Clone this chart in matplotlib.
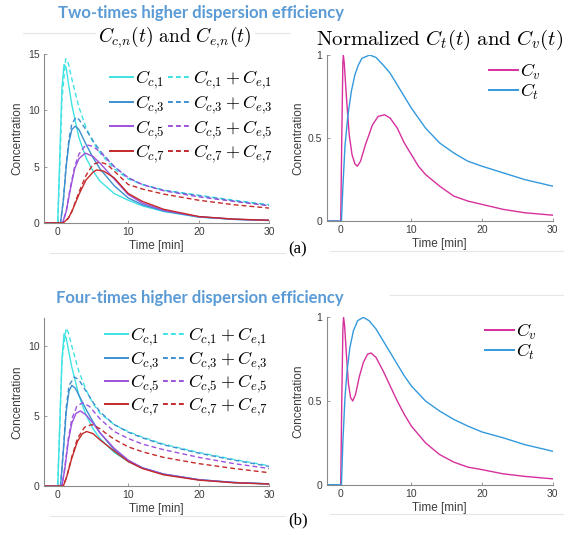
import numpy as np
import matplotlib
matplotlib.use("Agg")
import matplotlib.pyplot as plt
from matplotlib.lines import Line2D

plt.rcParams["mathtext.fontset"] = "cm"
plt.rcParams["font.family"] = ["Liberation Sans", "DejaVu Sans"]

# ---------------- data ----------------
# (a) two-times higher dispersion efficiency, left panel
ta_c1 = [-2, 0, 0.3, 0.6, 0.9, 1.2, 1.5, 2, 3, 4, 5, 6, 8, 10, 12, 15, 20, 25, 30]
a_c1 = [0, 0, 6, 12, 14.1, 13.8, 12.5, 10.5, 7.6, 5.8, 4.6, 3.7, 2.6, 2.0, 1.5, 1.0, 0.5, 0.3, 0.2]
ta_c3 = [-2, 0.4, 0.8, 1.2, 1.6, 2, 2.5, 3, 4, 5, 6, 8, 10, 12, 15, 20, 25, 30]
a_c3 = [0, 0, 2, 5, 7.2, 8.3, 8.6, 8.3, 7.0, 5.8, 4.8, 3.3, 2.2, 1.6, 1.05, 0.52, 0.3, 0.2]
ta_c5 = [-2, 0.7, 1.2, 1.8, 2.4, 3, 3.9, 5, 6, 8, 10, 12, 15, 20, 25, 30]
a_c5 = [0, 0, 1, 3, 4.8, 5.7, 6.2, 5.9, 5.3, 3.9, 2.5, 1.75, 1.1, 0.53, 0.31, 0.21]
ta_c7 = [-2, 0.8, 1.5, 2, 3, 4, 5, 5.5, 6.5, 8, 10, 12, 15, 20, 25, 30]
a_c7 = [0, 0, 0.4, 1.0, 2.5, 3.8, 4.5, 4.7, 4.6, 4.0, 2.6, 1.9, 1.2, 0.55, 0.32, 0.22]
ta_d1 = [-2, 0, 0.3, 0.6, 1.13, 1.5, 2, 3, 4, 5, 6, 8, 10, 12, 15, 20, 25, 30]
a_d1 = [0, 0, 5, 11, 14.6, 14.2, 12.8, 10.3, 8.5, 7.2, 6.2, 4.8, 3.9, 3.4, 2.9, 2.45, 2.0, 1.6]
ta_d3 = [-2, 0.4, 0.8, 1.2, 1.6, 2, 2.6, 3, 4, 5, 6, 8, 10, 12, 15, 20, 25, 30]
a_d3 = [0, 0, 2, 5.2, 7.5, 8.8, 9.4, 9.2, 8.3, 7.3, 6.4, 5.0, 4.0, 3.4, 2.9, 2.4, 1.95, 1.55]
ta_d5 = [-2, 0.7, 1.2, 1.8, 2.4, 3, 4, 5, 6, 8, 10, 12, 15, 20, 25, 30]
a_d5 = [0, 0, 1, 3.2, 5.0, 6.1, 6.95, 6.8, 6.3, 5.0, 4.0, 3.4, 2.85, 2.3, 1.9, 1.5]
ta_d7 = [-2, 0.8, 1.5, 2, 3, 4, 5, 6, 7, 8, 10, 12, 15, 20, 25, 30]
a_d7 = [0, 0, 0.4, 1.0, 2.7, 4.2, 5.2, 5.4, 5.2, 4.6, 3.4, 3.0, 2.55, 2.0, 1.6, 1.3]

# (a) right panel, normalized
ta_v = [-2, 0, 0.15, 0.3, 0.37, 0.5, 0.8, 1.2, 1.6, 2.0, 2.35, 2.8, 3.5, 4.5, 5.3, 6.2,
        7, 8, 9, 10, 11, 12, 14, 16, 18, 20, 23, 26, 30]
a_v = [0, 0, 0.5, 0.95, 1.0, 0.95, 0.75, 0.52, 0.4, 0.345, 0.33, 0.36, 0.46, 0.58, 0.63, 0.64,
       0.62, 0.56, 0.47, 0.4, 0.33, 0.28, 0.21, 0.15, 0.12, 0.1, 0.07, 0.05, 0.035]
ta_t = [-2, 0.1, 0.3, 0.6, 1.0, 1.5, 2, 2.5, 3, 4.1, 5, 6, 7, 8, 9, 10, 12, 14, 16, 18, 20,
        23, 26, 30]
a_t = [0, 0, 0.2, 0.45, 0.63, 0.78, 0.88, 0.94, 0.98, 1.0, 0.985, 0.94, 0.89, 0.82, 0.75,
       0.68, 0.56, 0.47, 0.41, 0.36, 0.33, 0.29, 0.25, 0.21]

# (b) four-times higher dispersion efficiency, left panel
tb_c1 = [-2, 0, 0.3, 0.6, 0.9, 1.2, 1.5, 2, 3, 4, 5, 6, 8, 10, 12, 15, 20, 25, 30]
b_c1 = [0, 0, 4.5, 9, 10.9, 10.6, 9.8, 8.5, 6.5, 5.1, 4.1, 3.4, 2.4, 1.75, 1.3, 0.85, 0.45, 0.25, 0.15]
tb_c3 = [-2, 0.4, 0.8, 1.2, 1.6, 2.0, 2.5, 3, 4, 5, 6, 8, 10, 12, 15, 20, 25, 30]
b_c3 = [0, 0, 2.5, 5.3, 6.8, 7.2, 7.0, 6.5, 5.5, 4.6, 3.8, 2.6, 1.8, 1.3, 0.85, 0.45, 0.25, 0.15]
tb_c5 = [-2, 0.6, 1.0, 1.5, 2, 2.6, 3.2, 4, 5, 6, 8, 10, 12, 15, 20, 25, 30]
b_c5 = [0, 0, 1.2, 3.2, 4.5, 5.2, 5.37, 5.1, 4.5, 3.8, 2.7, 1.85, 1.3, 0.85, 0.45, 0.25, 0.15]
tb_c7 = [-2, 0.8, 1.3, 2, 2.8, 3.5, 4.1, 5, 6, 8, 10, 12, 15, 20, 25, 30]
b_c7 = [0, 0, 0.7, 2.0, 3.2, 3.75, 3.9, 3.75, 3.3, 2.5, 1.75, 1.25, 0.8, 0.42, 0.23, 0.14]
tb_d1 = [-2, 0, 0.3, 0.6, 1.18, 1.5, 2, 3, 4, 5, 6, 8, 10, 12, 15, 20, 25, 30]
b_d1 = [0, 0, 4.5, 9, 11.3, 11.0, 10.0, 8.2, 6.9, 5.9, 5.2, 4.4, 3.9, 3.5, 3.0, 2.4, 1.9, 1.45]
tb_d3 = [-2, 0.4, 0.8, 1.2, 1.6, 2.36, 3, 4, 5, 6, 8, 10, 12, 15, 20, 25, 30]
b_d3 = [0, 0, 2.6, 5.6, 7.2, 7.8, 7.6, 6.8, 6.0, 5.3, 4.4, 3.85, 3.45, 2.95, 2.35, 1.85, 1.4]
tb_d5 = [-2, 0.6, 1.0, 1.5, 2, 2.7, 3.5, 4.5, 5, 6, 8, 10, 12, 15, 20, 25, 30]
b_d5 = [0, 0, 1.3, 3.4, 4.8, 5.7, 5.96, 5.7, 5.4, 4.8, 3.9, 3.4, 3.0, 2.6, 2.05, 1.6, 1.25]
tb_d7 = [-2, 0.8, 1.3, 2, 2.8, 3.8, 4.8, 6, 7, 8, 10, 12, 15, 20, 25, 30]
b_d7 = [0, 0, 0.7, 2.1, 3.4, 4.2, 4.4, 4.1, 3.7, 3.35, 2.8, 2.45, 2.05, 1.6, 1.25, 0.95]

# (b) right panel, normalized
tb_v = [-2, 0, 0.15, 0.3, 0.4, 0.55, 0.8, 1.1, 1.4, 1.7, 2.1, 2.6, 3.2, 3.8, 4.3, 5, 6, 7, 8,
        9, 10, 12, 14, 16, 18, 20, 23, 26, 30]
b_v = [0, 0, 0.5, 0.92, 1.0, 0.95, 0.78, 0.6, 0.52, 0.5, 0.54, 0.64, 0.73, 0.78, 0.787, 0.76,
       0.68, 0.59, 0.5, 0.42, 0.35, 0.25, 0.18, 0.135, 0.105, 0.09, 0.065, 0.05, 0.035]
tb_t = [-2, 0.1, 0.3, 0.6, 0.9, 1.3, 1.8, 2.4, 3.2, 4, 5, 6, 7, 8, 9, 10, 12, 14, 16, 18, 20,
        23, 26, 30]
b_t = [0, 0, 0.25, 0.52, 0.68, 0.82, 0.92, 0.98, 1.0, 0.98, 0.93, 0.86, 0.79, 0.72, 0.65,
       0.59, 0.5, 0.44, 0.39, 0.35, 0.315, 0.28, 0.24, 0.2]

n_labels = ["1", "3", "5", "7"]
series_colors = ["#3fe3e3", "#3d8fcf", "#9d52dd", "#c42a2a"]
cv_color = "#d6309c"
ct_color = "#3399dd"
head_color = "#5b9bd5"
axis_color = "#8a8a8a"
tick_text = "#3c3c3c"


def style_axes(ax, yticks, ylim, ylabels):
    ax.set_xlim(-2, 30)
    ax.set_ylim(*ylim)
    ax.set_xticks([0, 10, 20, 30])
    ax.set_yticks(yticks)
    ax.set_yticklabels(ylabels)
    for s in ["top", "right"]:
        ax.spines[s].set_visible(False)
    for s in ["left", "bottom"]:
        ax.spines[s].set_color(axis_color)
        ax.spines[s].set_linewidth(0.8)
    ax.tick_params(direction="in", length=2.5, width=0.6, color=axis_color,
                   labelsize=7.5, labelcolor=tick_text, pad=3)
    ax.set_xlabel("Time [min]", fontsize=8.5, color=tick_text, labelpad=2)
    ax.set_ylabel("Concentration", fontsize=8.5, color=tick_text, labelpad=3)


def draw_left(ax, solid, dashed, ylim, yticks, anchor, spacing):
    for (t, y), c in zip(solid, series_colors):
        ax.plot(t, y, color=c, lw=1.0)
    for (t, y), c in zip(dashed, series_colors):
        ax.plot(t, y, color=c, lw=1.0, ls=(0, (3.5, 2.2)))
    handles = [Line2D([], [], color=c, lw=1.4) for c in series_colors]
    handles += [Line2D([], [], color=c, lw=1.4, ls=(0, (2.5, 1.6))) for c in series_colors]
    labels = ["$C_{c{,}%s}$" % n for n in n_labels]
    labels += ["$C_{c{,}%s}+C_{e{,}%s}$" % (n, n) for n in n_labels]
    ax.legend(handles, labels, ncol=2, frameon=False, fontsize=13,
              loc="upper left", bbox_to_anchor=anchor,
              handlelength=1.3, handletextpad=0.1, columnspacing=0.15,
              labelspacing=spacing, borderaxespad=0, borderpad=0)
    style_axes(ax, yticks, ylim, [str(v) for v in yticks])


def draw_right(ax, tv, v, tt, tc, anchor):
    ax.plot(tv, v, color=cv_color, lw=1.0)
    ax.plot(tt, tc, color=ct_color, lw=1.0)
    handles = [Line2D([], [], color=cv_color, lw=1.4), Line2D([], [], color=ct_color, lw=1.4)]
    ax.legend(handles, ["$C_v$", "$C_t$"], frameon=False, fontsize=13,
              loc="upper left", bbox_to_anchor=anchor,
              handlelength=1.6, handletextpad=0.1, labelspacing=0.0,
              borderaxespad=0, borderpad=0)
    style_axes(ax, [0, 0.5, 1], (0, 1), ["0", "0.5", "1"])


fig = plt.figure(figsize=(5.76, 5.35), dpi=100)

ax1 = fig.add_axes([0.0757, 0.5837, 0.392, 0.3148])
draw_left(ax1, [(ta_c1, a_c1), (ta_c3, a_c3), (ta_c5, a_c5), (ta_c7, a_c7)],
          [(ta_d1, a_d1), (ta_d3, a_d3), (ta_d5, a_d5), (ta_d7, a_d7)], (0, 15), [0, 5, 10, 15],
          (0.294, 0.915), 0.12)
ax2 = fig.add_axes([0.567, 0.5869, 0.3925, 0.3103])
draw_right(ax2, ta_v, a_v, ta_t, a_t, (0.718, 0.96))

ax3 = fig.add_axes([0.0757, 0.0916, 0.392, 0.3133])
draw_left(ax3, [(tb_c1, b_c1), (tb_c3, b_c3), (tb_c5, b_c5), (tb_c7, b_c7)],
          [(tb_d1, b_d1), (tb_d3, b_d3), (tb_d5, b_d5), (tb_d7, b_d7)], (0, 12), [0, 5, 10],
          (0.272, 0.955), 0.04)
ax4 = fig.add_axes([0.567, 0.094, 0.3925, 0.3129])
draw_right(ax4, tb_v, b_v, tb_t, b_t, (0.70, 0.975))

# headers and panel titles
fig.text(201 / 576, 1 - 13 / 535, "Two-times higher dispersion efficiency", color=head_color,
         fontsize=12, fontweight="bold", family="Lato", ha="center", va="center")
fig.text(200 / 576, 1 - 298 / 535, "Four-times higher dispersion efficiency", color=head_color,
         fontsize=12, fontweight="bold", family="Lato", ha="center", va="center")
fig.text(175 / 576, 1 - 37 / 535, r"$C_{c{,}n}(t)\ \mathrm{and}\ C_{e{,}n}(t)$",
         fontsize=14, ha="center", va="center")
fig.text(440 / 576, 1 - 40 / 535, r"$\mathrm{Normalized}\ C_t(t)\ \mathrm{and}\ C_v(t)$",
         fontsize=15, ha="center", va="center")
fig.text(298 / 576, 1 - 249 / 535, "(a)", fontsize=12, family="Liberation Serif",
         ha="center", va="center")
fig.text(298 / 576, 1 - 520 / 535, "(b)", fontsize=12, family="Liberation Serif",
         ha="center", va="center")

# faint separator lines of the original composite
for x0, x1, y in [(23, 95, 33), (255, 290, 33), (50, 285, 253), (330, 563, 251),
                  (50, 285, 516), (330, 563, 514), (390, 563, 295)]:
    fig.add_artist(Line2D([x0 / 576, x1 / 576], [1 - y / 535, 1 - y / 535],
                          color="#e6e6e6", lw=0.8))

fig.savefig("out.png", dpi=100)
